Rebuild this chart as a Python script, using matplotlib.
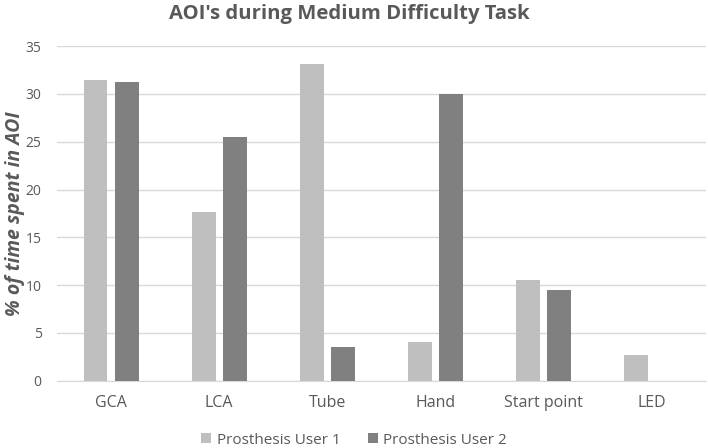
import matplotlib
matplotlib.use("Agg")
import matplotlib.pyplot as plt
import numpy as np

categories = ["GCA", "LCA", "Tube", "Hand", "Start point", "LED"]
user1 = [31.5, 17.7, 33.1, 4.1, 10.55, 2.75]
user2 = [31.3, 25.5, 3.55, 30.0, 9.5, 0.0]
series_names = ["Prosthesis User 1", "Prosthesis User 2"]
yticks = [0, 5, 10, 15, 20, 25, 30, 35]

plt.rcParams['font.family'] = ['Open Sans', 'DejaVu Sans']
text_color = "#595959"

fig = plt.figure(figsize=(7.08, 4.48), dpi=100)
ax = fig.add_axes([0.0805, 0.150, 0.9165, 0.747])

x = np.arange(len(categories))
w = 0.22
off = 0.144
ax.bar(x - off, user1, width=w, color="#bfbfbf", label=series_names[0], zorder=3)
ax.bar(x + off, user2, width=w, color="#808080", label=series_names[1], zorder=3)

ax.set_xlim(-0.5, len(categories) - 0.5)
ax.set_ylim(0, 35)
ax.set_yticks(yticks)
ax.yaxis.grid(True, color="#d9d9d9", linewidth=1, zorder=0)
ax.set_axisbelow(True)
for s in ["top", "right", "left"]:
    ax.spines[s].set_visible(False)
ax.spines["bottom"].set_color("#d9d9d9")
ax.tick_params(axis="both", length=0, colors=text_color)
ax.tick_params(axis="x", pad=10, labelsize=11.5)
ax.tick_params(axis="y", pad=11, labelsize=10)
ax.set_xticks(x)
ax.set_xticklabels(categories)

ax.set_ylabel("% of time spent in AOI", fontsize=14, fontweight="bold",
              fontstyle="italic", color=text_color, labelpad=0.5)
fig.suptitle("AOI's during Medium Difficulty Task", fontsize=14.6,
             fontweight="bold", color=text_color, y=0.99, x=0.493)

leg = fig.legend(loc="lower center", ncol=2, bbox_to_anchor=(0.5, -0.03),
                 frameon=False, fontsize=11, handlelength=0.65, handleheight=0.65,
                 handletextpad=0.35, columnspacing=1.8)
for t in leg.get_texts():
    t.set_color(text_color)

fig.savefig("out.png", dpi=100)
